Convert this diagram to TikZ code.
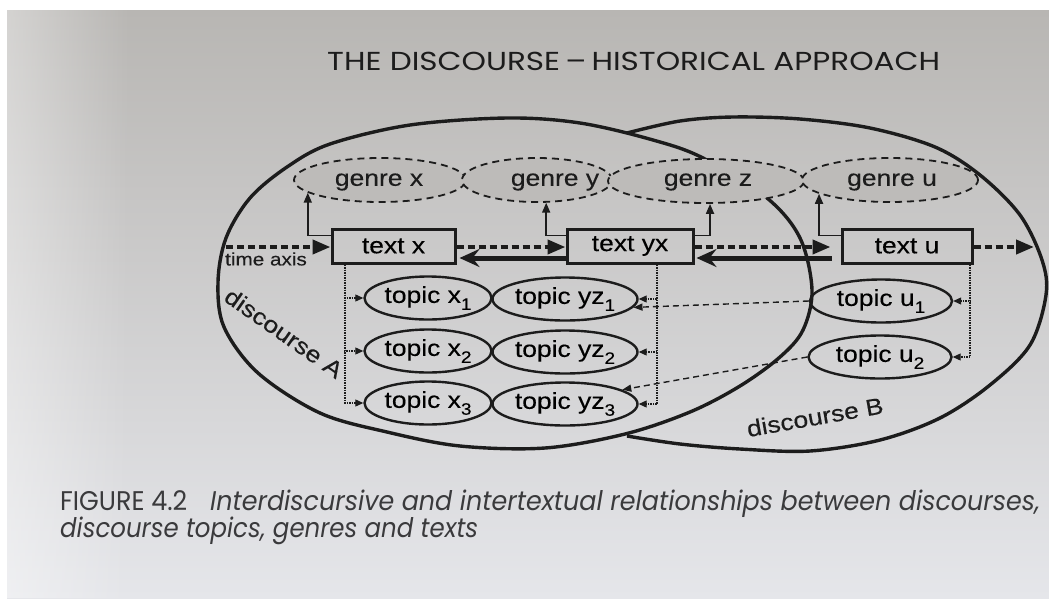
\documentclass[tikz,border=0pt]{standalone}
\usepackage{fontspec}
\usepackage{graphicx}
\usetikzlibrary{arrows.meta,shapes.geometric,fadings}
\newfontfamily\diafont[FakeStretch=1.15,FakeBold=0.3]{Liberation Sans}
\newfontfamily\headfont{Poppins}
\newcommand\dialabel{\diafont\fontsize{23}{23}\selectfont}
\newcommand\lowidx[1]{\raisebox{-0.30em}{\fontsize{16.5}{16.5}\selectfont #1}}
\definecolor{ink}{RGB}{28,28,28}
\definecolor{captionink}{RGB}{58,58,60}
\definecolor{pagetop}{RGB}{184,182,179}
\definecolor{pagemid}{RGB}{200,199,199}
\definecolor{pagebot}{RGB}{229,230,234}
\definecolor{genrebg}{RGB}{189,187,185}
\begin{document}
\begin{tikzpicture}[x=1pt,y=-1pt,
  discourse/.style={draw=ink, line width=3.4pt},
  genre/.style={ellipse, draw=ink, dash pattern=on 7pt off 5pt, line width=1.8pt,
    fill=genrebg, inner sep=0pt, minimum height=44pt, font=\dialabel},
  textbox/.style={rectangle, draw=ink, line width=3pt, inner sep=0pt,
    minimum height=34pt, font=\dialabel},
  topic/.style={ellipse, draw=ink, line width=2.4pt, inner sep=0pt,
    minimum height=43pt, font=\dialabel},
  timeline/.style={draw=ink, line width=4pt, dash pattern=on 7pt off 4pt,
    -{Triangle[length=18pt,width=14pt]}},
  backline/.style={draw=ink, line width=5pt,
    -{Stealth[length=20pt,width=18pt,inset=7pt]}},
  genrelink/.style={draw=ink, line width=1.8pt, -{Triangle[length=10pt,width=8pt]}},
  topiclink/.style={draw=ink, line width=1.1pt, dash pattern=on 1.5pt off 1pt,
    -{Triangle[length=8pt,width=7pt]}},
  crosslink/.style={draw=ink, line width=1.4pt, dash pattern=on 6pt off 4pt,
    -{Triangle[length=9pt,width=7pt]}}
]
\useasboundingbox (0,0) rectangle (1049,598);
% page
\fill[white] (0,0) rectangle (1049,598);
\shade[top color=pagetop, middle color=pagemid, bottom color=pagebot] (7,10) rectangle (1049,598);
\fill[white, path fading=east, fill opacity=0.4] (7,10) rectangle (130,598);

% running head
\node[anchor=base west, inner sep=0pt, text=ink] (head) at (327,70)
  {\resizebox{613pt}{\height}{\headfont\fontsize{26}{26}\selectfont THE DISCOURSE\,–\,HISTORICAL APPROACH}};

% discourse A (full outline)
\draw[discourse] plot[smooth cycle, tension=0.55] coordinates {
  (507,118) (580,123) (653,140) (703,158) (767,198) (800,238) (812,290)
  (803,330) (780,357) (740,386) (690,412) (625,434) (545,448) (460,446)
  (387,432) (320,413) (258,373) (224,327) (218,282) (226,238) (250,198)
  (287,167) (330,144) (410,125)};
% discourse B (part outside A)
\draw[discourse] plot[smooth, tension=0.55] coordinates {
  (627,133) (680,121) (733,117) (800,119) (870,128) (935,147) (980,175)
  (1020,215) (1042,260) (1046,295) (1030,345) (990,385) (940,418)
  (880,440) (810,451) (740,449) (680,444) (627,436)};

\node[font=\dialabel, rotate=-35, text=ink] (dA) at (284,333) {discourse A};
\node[font=\dialabel, rotate=10, text=ink] (dB) at (815,417) {discourse B};

% genres
\node[genre, minimum width=172pt] (gx) at (380,180) {};
\node[genre, minimum width=150pt] (gy) at (537,180) {};
\node[genre, minimum width=196pt] (gz) at (706,181) {};
\node[genre, minimum width=176pt] (gu) at (890,180) {};
\node[font=\dialabel, text=ink] (lgx) at (379,182) {genre x};
\node[font=\dialabel, text=ink] (lgy) at (555,182) {genre y};
\node[font=\dialabel, text=ink] (lgz) at (708,182) {genre z};
\node[font=\dialabel, text=ink] (lgu) at (892,182) {genre u};

% texts
\node[textbox, minimum width=123pt] (tx) at (393.5,246) {text x};
\node[textbox, minimum width=126pt] (tyx) at (630,246) {text yx};
\node[textbox, minimum width=130pt] (tu) at (907,246) {text u};

% time axis
\coordinate (tstart) at (226,247);
\coordinate (tend) at (1034,247);
\draw[timeline] (tstart) -- (tx.west |- tstart);
\node[font=\diafont\fontsize{18}{18}\selectfont, text=ink] (tlabel) at (266,259) {time axis};
\draw[timeline] (tx.east |- tstart) -- (tyx.west |- tstart);
\draw[timeline] (tyx.east |- tstart) -- ([xshift=-10pt]tu.west |- tstart);
\draw[timeline] (tu.east |- tstart) -- (tend);
\draw[backline] ([yshift=-12pt]tyx.west) -- ([xshift=3pt,yshift=-12pt]tx.east);
\draw[backline] ([xshift=-9pt,yshift=-12pt]tu.west) -- ([xshift=2pt,yshift=-12pt]tyx.east);

% texts to genres
\draw[genrelink] ([yshift=-8pt]tx.north west) -| (gx.190);
\draw[genrelink] ([yshift=-8pt]tyx.north west) -| (gy.292);
\draw[genrelink] ([yshift=-8pt]tyx.north east) -| (gz.280);
\draw[genrelink] ([yshift=-8pt]tu.north west) -| (gu.191);

% topics
\node[topic, minimum width=127pt] (x1) at (428,298) {topic x\lowidx{1}};
\node[topic, minimum width=127pt] (x2) at (428,351) {topic x\lowidx{2}};
\node[topic, minimum width=127pt] (x3) at (428,403) {topic x\lowidx{3}};
\node[topic, minimum width=145pt] (yz1) at (565,299) {topic yz\lowidx{1}};
\node[topic, minimum width=145pt] (yz2) at (565,352) {topic yz\lowidx{2}};
\node[topic, minimum width=145pt] (yz3) at (565,404) {topic yz\lowidx{3}};
\node[topic, minimum width=142pt] (u1) at (881,301) {topic u\lowidx{1}};
\node[topic, minimum width=143pt] (u2) at (880,357) {topic u\lowidx{2}};

% texts to topics
\coordinate (vx) at (345,0);
\coordinate (vyx) at (657,0);
\coordinate (vu) at (970,0);
\foreach \t in {x1,x2,x3}
  \draw[topiclink] (tx.south -| vx) |- (\t.west);
\foreach \t in {yz1,yz2,yz3}
  \draw[topiclink] (tyx.south -| vyx) |- (\t.east);
\foreach \t in {u1,u2}
  \draw[topiclink] (tu.south -| vu) |- (\t.east);

% intertextual links
\draw[crosslink] (u1.west) -- (yz1.-7);
\draw[crosslink] (u2.west) -- (yz3.14);

% caption
\node[anchor=base west, inner sep=0pt, text=captionink] (cap1) at (60,510)
  {\resizebox{980pt}{\height}{\headfont\fontsize{27}{27}\selectfont FIGURE 4.2\hspace{0.9em}\itshape Interdiscursive and intertextual relationships between discourses,}};
\node[anchor=base west, inner sep=0pt, text=captionink] (cap2) at (60,537)
  {\resizebox{418pt}{\height}{\headfont\fontsize{27}{27}\selectfont\itshape discourse topics, genres and texts}};
\end{tikzpicture}
\end{document}
